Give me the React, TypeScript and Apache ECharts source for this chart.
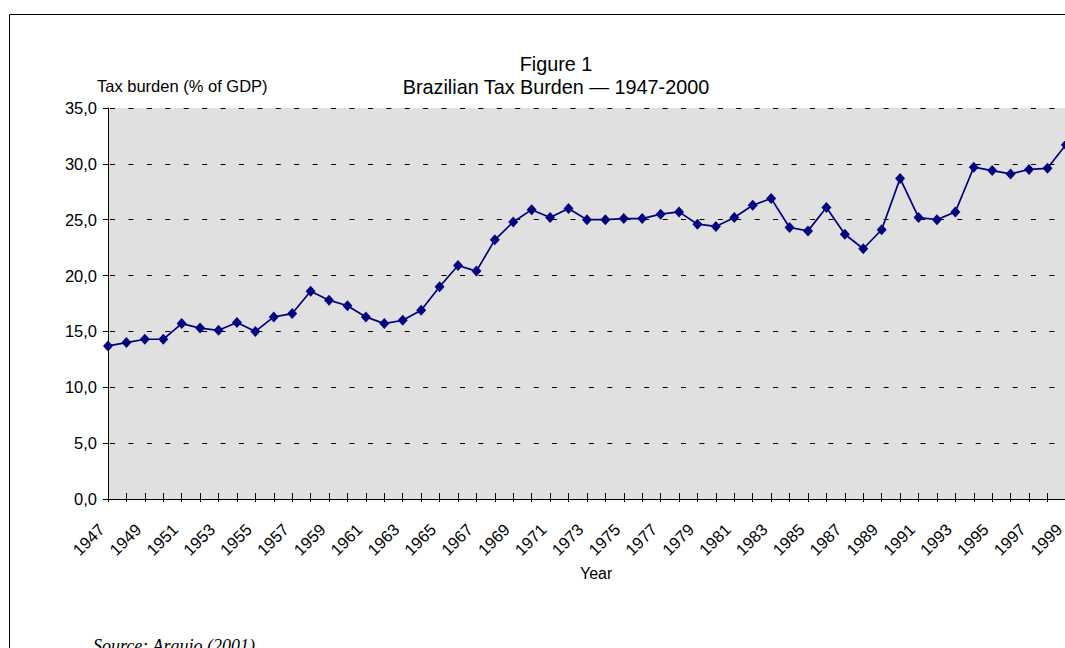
import React, { useEffect, useRef } from "react";
import * as echarts from "echarts";

const years: string[] = [
  "1947", "1948", "1949", "1950", "1951", "1952", "1953", "1954", "1955", "1956",
  "1957", "1958", "1959", "1960", "1961", "1962", "1963", "1964", "1965", "1966",
  "1967", "1968", "1969", "1970", "1971", "1972", "1973", "1974", "1975", "1976",
  "1977", "1978", "1979", "1980", "1981", "1982", "1983", "1984", "1985", "1986",
  "1987", "1988", "1989", "1990", "1991", "1992", "1993", "1994", "1995", "1996",
  "1997", "1998", "1999", "2000",
];

const taxBurden: number[] = [
  13.7, 14.0, 14.3, 14.3, 15.7, 15.3, 15.1, 15.8, 15.0, 16.3,
  16.6, 18.6, 17.8, 17.3, 16.3, 15.7, 16.0, 16.9, 19.0, 20.9,
  20.4, 23.2, 24.8, 25.9, 25.2, 26.0, 25.0, 25.0, 25.1, 25.1,
  25.5, 25.7, 24.6, 24.4, 25.2, 26.3, 26.9, 24.3, 24.0, 26.1,
  23.7, 22.4, 24.1, 28.7, 25.2, 25.0, 25.7, 29.7, 29.4, 29.1,
  29.5, 29.6, 31.7, 32.6,
];

const titleLines: string[] = ["Figure 1", "Brazilian Tax Burden \u2014 1947-2000"];
const yAxisTitle = "Tax burden (% of GDP)";
const xAxisTitle = "Year";
const sourceNote = "Source: Araujo (2001).";

const SANS = "'Liberation Sans', Arial, sans-serif";
const SERIF = "'Liberation Serif', 'Times New Roman', serif";

export default function App() {
  const ref = useRef<HTMLDivElement>(null);

  useEffect(() => {
    if (!ref.current) return;
    const chart = echarts.init(ref.current, undefined, { renderer: "svg" });
    chart.setOption({
      animation: false,
      backgroundColor: "#ffffff",
      textStyle: { fontFamily: SANS, color: "#000" },
      title: {
        text: titleLines.join("\n"),
        left: 551,
        top: 47,
        textAlign: "center",
        textStyle: {
          fontFamily: SANS,
          fontSize: 19.8,
          fontWeight: "normal",
          color: "#000",
          lineHeight: 23,
        },
      },
      grid: {
        left: 108,
        top: 108,
        width: 976.3,
        height: 391,
        show: true,
        backgroundColor: "#e0e0e0",
        borderWidth: 0,
      },
      xAxis: [
        {
          type: "category",
          data: years,
          boundaryGap: false,
          position: "bottom",
          name: xAxisTitle,
          nameLocation: "middle",
          nameGap: 61,
          nameTextStyle: { fontFamily: SANS, fontSize: 16, color: "#000" },
          axisLine: { show: true, lineStyle: { color: "#000", width: 1 } },
          axisTick: { show: true, interval: 0, length: 3, lineStyle: { color: "#000" } },
          axisLabel: {
            interval: 1,
            rotate: 45,
            margin: 21,
            fontFamily: SANS,
            fontSize: 16.5,
            color: "#000",
            formatter: (v: string) => `{y|${v}}`,
            rich: {
              y: {
                fontFamily: SANS,
                fontSize: 16.5,
                color: "#000",
                width: 46,
                align: "left",
              },
            },
          },
          splitLine: { show: false },
        },
        {
          type: "category",
          data: years,
          boundaryGap: false,
          position: "bottom",
          offset: 0,
          axisLine: { show: false },
          axisTick: { show: true, inside: true, interval: 0, length: 6, lineStyle: { color: "#000" } },
          axisLabel: { show: false },
          splitLine: { show: false },
        },
      ],
      yAxis: {
        type: "value",
        min: 0,
        max: 35,
        interval: 5,
        axisLine: { show: true, lineStyle: { color: "#000", width: 1 } },
        axisTick: { show: true, length: 5, lineStyle: { color: "#000" } },
        axisLabel: {
          margin: 11,
          fontFamily: SANS,
          fontSize: 16.5,
          color: "#000",
          formatter: (v: number) => v.toFixed(1).replace(".", ","),
        },
        splitLine: {
          show: true,
          lineStyle: { color: "#000", width: 1, type: [5, 13.42], dashOffset: -2 },
        },
      },
      graphic: [
        {
          type: "rect",
          shape: { x: 9.5, y: 14.5, width: 1300, height: 1000 },
          style: { fill: "none", stroke: "#000", lineWidth: 1 },
          silent: true,
          z: -1,
        },
        {
          type: "text",
          x: 97,
          y: 86,
          style: {
            text: yAxisTitle,
            font: `16.5px ${SANS}`,
            fill: "#000",
            textVerticalAlign: "middle",
          },
        },
        {
          type: "text",
          x: 93,
          y: 637,
          style: {
            text: sourceNote,
            font: `italic 18px ${SERIF}`,
            fill: "#000",
            textVerticalAlign: "top",
          },
        },
      ],
      series: [
        {
          type: "line",
          data: taxBurden,
          xAxisIndex: 0,
          yAxisIndex: 0,
          symbol: "diamond",
          symbolSize: [10, 11],
          showSymbol: true,
          lineStyle: { color: "#000080", width: 1.7 },
          itemStyle: { color: "#000080" },
          clip: true,
        },
      ],
    });
    return () => chart.dispose();
  }, []);

  return (
    <div
      style={{
        position: "fixed",
        left: 0,
        top: 0,
        width: 1065,
        height: 648,
        overflow: "hidden",
        background: "#fff",
      }}
    >
      <div ref={ref} style={{ width: 1140, height: 648 }} />
    </div>
  );
}
